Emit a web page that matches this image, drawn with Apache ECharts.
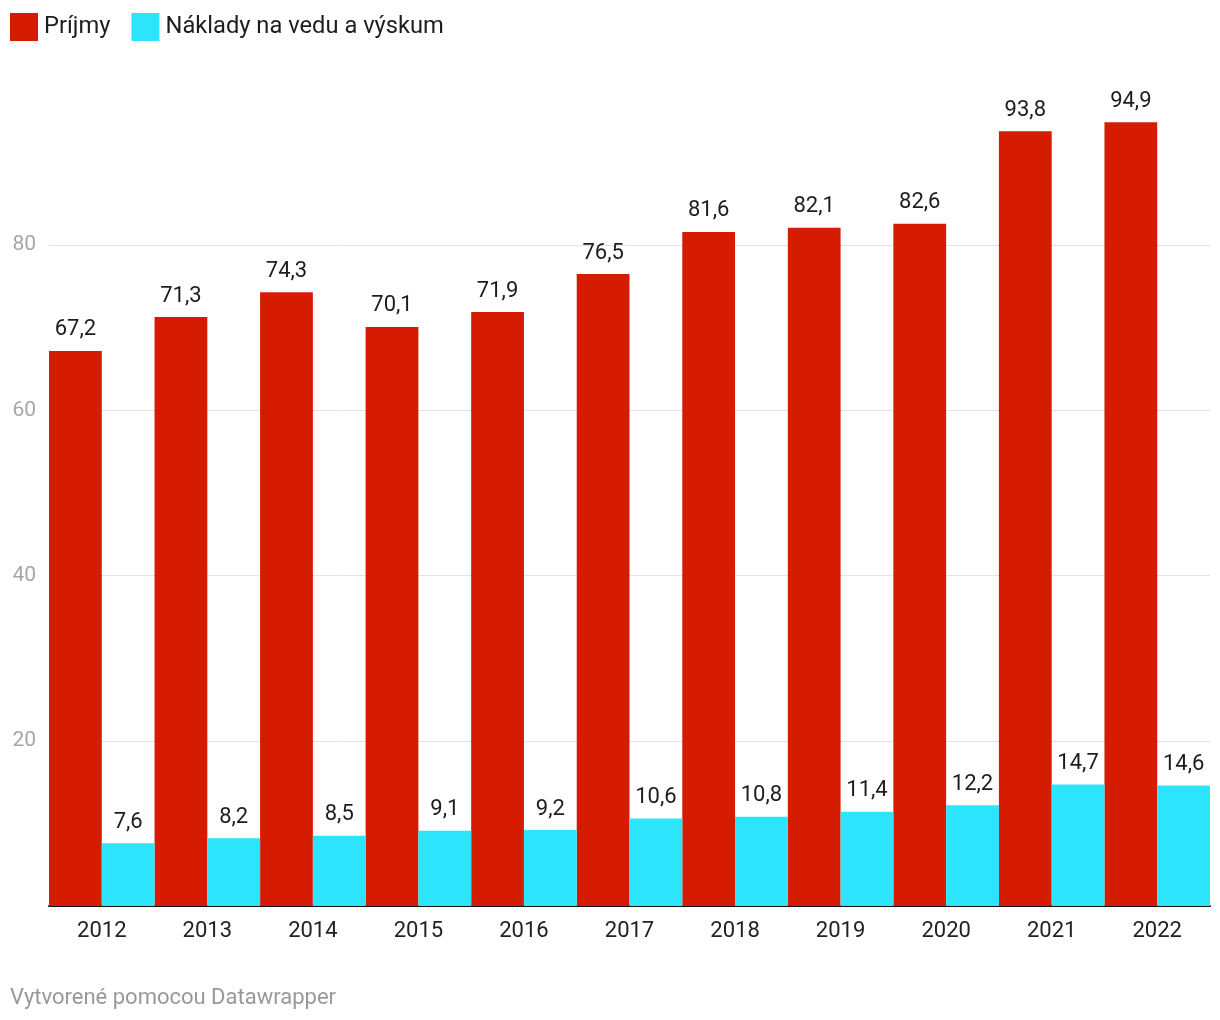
<!DOCTYPE html>
<html>
<head>
<meta charset="utf-8">
<script src="https://cdn.jsdelivr.net/npm/echarts@6/dist/echarts.min.js"></script>
<style>
html,body{margin:0;padding:0;background:#fff;}
#chart{width:1220px;height:1020px;}
</style>
</head>
<body>
<div id="chart"></div>
<script>
var years = ['2012','2013','2014','2015','2016','2017','2018','2019','2020','2021','2022'];
var prijmy = [67.2, 71.3, 74.3, 70.1, 71.9, 76.5, 81.6, 82.1, 82.6, 93.8, 94.9];
var naklady = [7.6, 8.2, 8.5, 9.1, 9.2, 10.6, 10.8, 11.4, 12.2, 14.7, 14.6];
var seriesNames = ['Príjmy', 'Náklady na vedu a výskum'];
var footerText = 'Vytvorené pomocou Datawrapper';

var FONT = 'Roboto';
function fmt(p){ return String(p.value).replace('.', ','); }

var chart = echarts.init(document.getElementById('chart'), null, {renderer:'canvas'});
chart.setOption({
  animation: false,
  backgroundColor: '#ffffff',
  textStyle: { fontFamily: FONT },
  legend: {
    left: 10, top: 13, padding: 0,
    itemWidth: 28, itemHeight: 28, itemGap: 21,
    icon: 'rect',
    textStyle: { fontFamily: FONT, fontSize: 23.7, color: '#1d1d1d', padding: [0,0,0,1] },
    data: seriesNames
  },
  grid: { left: 49, right: 10, top: 80, bottom: 114, containLabel: false },
  xAxis: {
    type: 'category',
    data: years,
    axisLine: { show: true, lineStyle: { color: '#111', width: 2 } },
    axisTick: { show: false },
    axisLabel: { fontFamily: FONT, fontSize: 22, color: '#222', margin: 14 }
  },
  yAxis: {
    type: 'value',
    min: 0, max: 100, interval: 20,
    axisLine: { show: false },
    axisTick: { show: false },
    axisLabel: {
      fontFamily: FONT, fontSize: 21, color: '#a6a6a6', margin: 13,
      showMinLabel: false, showMaxLabel: false
    },
    splitLine: { show: true, lineStyle: { color: ['#e3e3e3','#e3e3e3','#e3e3e3','#e3e3e3','#e3e3e3','rgba(0,0,0,0)'], width: 1 } }
  },
  series: [
    {
      name: seriesNames[0], type: 'bar', data: prijmy,
      barGap: '0%', barCategoryGap: '0%',
      itemStyle: { color: '#d51b00' },
      label: { show: true, position: 'top', distance: 10, formatter: fmt,
               fontFamily: FONT, fontSize: 22, color: '#1d1d1d' }
    },
    {
      name: seriesNames[1], type: 'bar', data: naklady,
      barGap: '0%', barCategoryGap: '0%',
      itemStyle: { color: '#2ce5fd' },
      label: { show: true, position: 'top', distance: 10, formatter: fmt,
               fontFamily: FONT, fontSize: 22, color: '#1d1d1d' }
    }
  ],
  graphic: [{
    type: 'text', left: 10, top: 987,
    style: { text: footerText, font: '22px Roboto', fill: '#999999' }
  }]
});
</script>
</body>
</html>
